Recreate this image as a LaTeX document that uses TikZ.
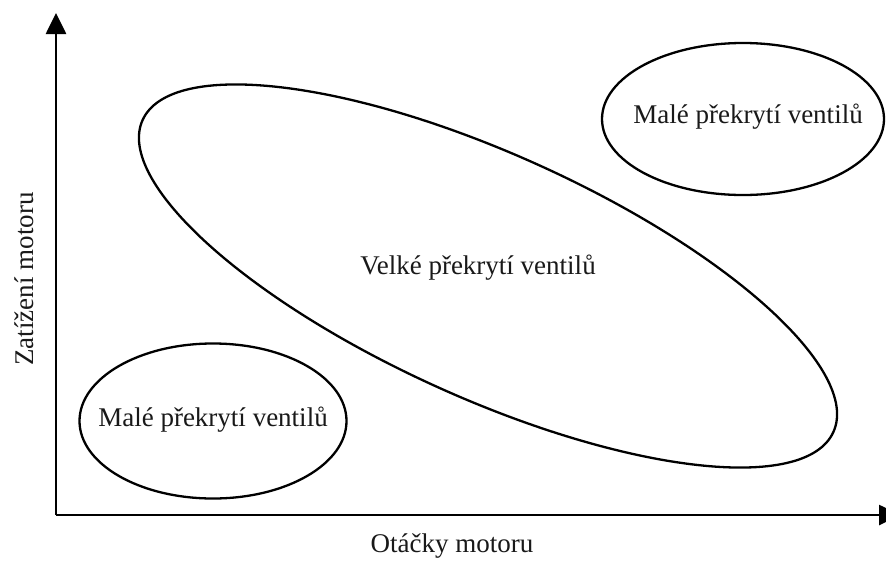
\documentclass[tikz,border=0pt]{standalone}
\usepackage{fontspec}
\setmainfont{Liberation Serif}
\usetikzlibrary{arrows.meta,shapes.geometric}
\begin{document}
\begin{tikzpicture}[x=1pt,y=-1pt,
  axis/.style={line width=2.7pt,-{Triangle[length=21pt,width=20pt]}},
  region/.style={draw,ellipse,line width=2.3pt,inner sep=0pt},
  lbl/.style={font=\fontsize{27}{32}\selectfont,text=black!90,inner sep=0pt}]
\useasboundingbox[fill=white] (0,0) rectangle (886,560);
\coordinate (o) at (56,515);
\coordinate (ytip) at (56,13);
\coordinate (xtip) at (900,515);
\draw[axis] (o) -- (ytip);
\draw[axis] (o) -- (xtip);
\node[region,minimum width=758pt,minimum height=244pt,rotate=-24.3] (big) at (488,276) {};
\node[lbl] (bigt) at (478,268) {Velké překrytí ventilů};
\node[region,minimum width=267pt,minimum height=155pt] (sl) at (213,421) {};
\node[lbl] (slt) at (213,420) {Malé překrytí ventilů};
\node[region,minimum width=282pt,minimum height=152pt] (sr) at (743,119) {};
\node[lbl] (srt) at (748,117) {Malé překrytí ventilů};
\node[lbl] (xl) at (452,546) {Otáčky motoru};
\node[lbl,rotate=90] (yl) at (24,279) {Zatížení motoru};
\end{tikzpicture}
\end{document}
